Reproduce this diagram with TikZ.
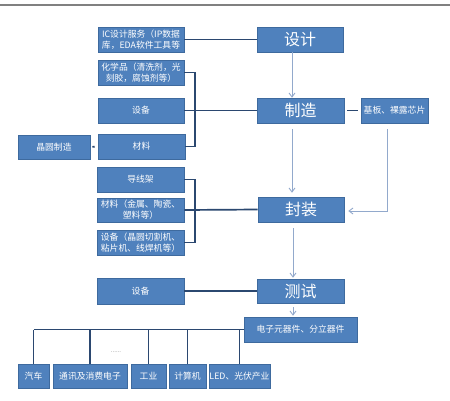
\documentclass[tikz,border=0pt]{standalone}
\usepackage{fontspec}
\setmainfont{Noto Sans CJK SC}
\usetikzlibrary{arrows.meta,calc}
\definecolor{boxfill}{HTML}{4F81BD}
\definecolor{boxdraw}{HTML}{3E6A9E}
\definecolor{darkline}{HTML}{2B4870}
\definecolor{arrline}{HTML}{92A9CC}
\tikzset{
  box/.style={draw=boxdraw, fill=boxfill, line width=0.6pt, text=white, inner sep=0pt, align=center, font=\fontsize{8.8}{11}\selectfont},
  bigbox/.style={box, font=\fontsize{16}{18}\selectfont},
  link/.style={draw=darkline, line width=1.7pt},
  arr/.style={draw=arrline, line width=0.9pt, -{Straight Barb[length=4pt,width=6pt]}}
}
\begin{document}
\begin{tikzpicture}[x=1pt,y=-1pt]
\useasboundingbox (0,0) rectangle (450,400);
\fill[white] (0,0) rectangle (450,400);
\draw[gray, line width=1.3pt] (0,5) -- (450,5);
% left column
\node[box, minimum width=86, minimum height=25] (ic) at (141,39.5) {IC设计服务（IP数据\\库，EDA软件工具等};
\node[box, minimum width=86, minimum height=25] (chem) at (141,72.5) {化学品（清洗剂，光\\刻胶，腐蚀剂等）};
\node[box, minimum width=86, minimum height=25] (eq1) at (141,110.5) {设备};
\node[box, minimum width=87, minimum height=25] (mat1) at (141.5,146.5) {材料};
\node[box, minimum width=72, minimum height=24] (wafer) at (54,147) {晶圆制造};
\node[box, minimum width=87, minimum height=25] (lead) at (140.5,179.5) {导线架};
\node[box, minimum width=87, minimum height=24] (mat2) at (140.5,210) {材料（金属、陶瓷、\\塑料等）};
\node[box, minimum width=87, minimum height=25] (eq2) at (140.5,242.5) {设备（晶圆切割机、\\粘片机、线焊机等）};
\node[box, minimum width=87, minimum height=26] (eq3) at (140.5,291) {设备};
% main column
\node[bigbox, minimum width=86, minimum height=25] (sheji) at (300,39.5) {设计};
\node[bigbox, minimum width=87, minimum height=25] (zhizao) at (300.5,110.5) {制造};
\node[box, minimum width=67, minimum height=25] (jiban) at (394.5,110.5) {基板、裸露芯片};
\node[bigbox, minimum width=86, minimum height=25] (feng) at (301,209.5) {封装};
\node[bigbox, minimum width=87, minimum height=24] (ceshi) at (300.5,291) {测试};
\node[box, minimum width=113, minimum height=25] (elec) at (300.5,329.5) {电子元器件、分立器件};
% bottom row
\node[box, minimum width=31, minimum height=24] (car) at (33.5,376) {汽车};
\node[box, minimum width=74, minimum height=24] (comm) at (90,376) {通讯及消费电子};
\node[box, minimum width=35, minimum height=24] (ind) at (148.5,376) {工业};
\node[box, minimum width=37, minimum height=24] (comp) at (187.5,376) {计算机};
\node[box, minimum width=61, minimum height=24] (led) at (239.5,376) {LED、光伏产业};
\node[text=gray, font=\fontsize{6}{6}\selectfont] (dots) at (116,352) {......};
% dark connectors
\draw[link] (ic.east) -- (sheji.west);
\draw[link] (chem.east) -- ++(11,0) |- (mat1.east);
\draw[link] (eq1.east) -- (zhizao.west);
\draw[link, shorten <=2pt, shorten >=3pt] (wafer.east) -- (mat1.west);
\draw[link, shorten <=3pt, shorten >=3pt] (zhizao.east) -- (jiban.west);
\draw[link] (lead.east) -- ++(11,0) |- (eq2.east);
\draw[link] (mat2.east) -- (feng.west);
\draw[link] (eq3.east) -- (ceshi.west);
\coordinate (busl) at (car.north |- elec.west);
\draw[link] (elec.west) -- (busl);
\foreach \n in {car,comm,ind,comp,led}{
  \draw[link] (\n.north |- elec.west) -- (\n.north);
}
% light arrows
\coordinate (ax) at (292,0);
\draw[arr] (sheji.south -| ax) -- (zhizao.north -| ax);
\draw[arr, shorten <=6pt, shorten >=4pt] (zhizao.south -| ax) -- (feng.north -| ax);
\draw[arr, shorten <=6pt, shorten >=1pt] ($(feng.south -| ax)+(1,0)$) -- ($(ceshi.north -| ax)+(1,0)$);
\draw[arr, shorten <=4pt, shorten >=1pt] ($(ceshi.south -| ax)+(1,0)$) -- ($(elec.north -| ax)+(1,0)$);
\draw[arr, shorten <=6pt, shorten >=4pt] ($(jiban.south)+(-7.5,0)$) |- ($(feng.east)+(0,1.5)$);
\end{tikzpicture}
\end{document}
